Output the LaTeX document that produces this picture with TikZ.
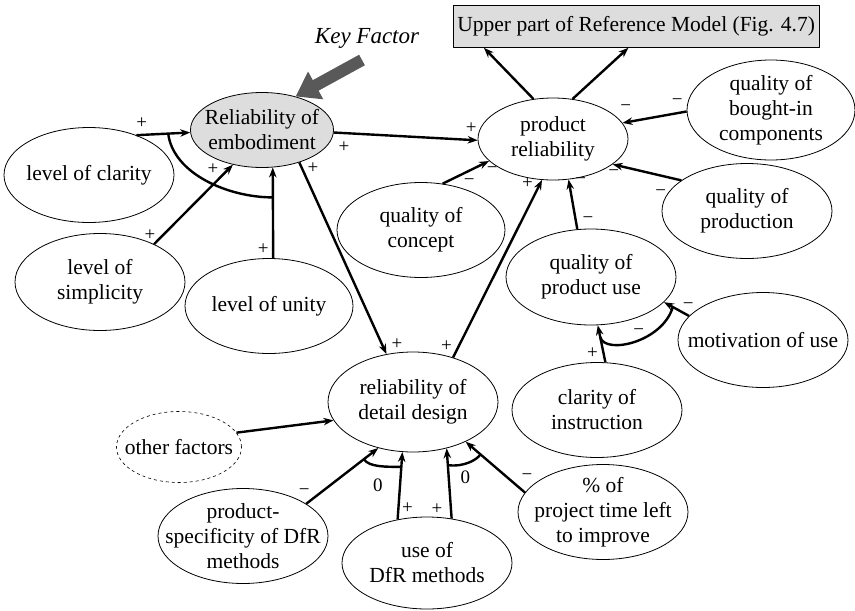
\documentclass[tikz,border=0pt]{standalone}
\usepackage{fontspec}
\setmainfont{Liberation Serif}
\usetikzlibrary{shapes.geometric,arrows.meta,calc}
\definecolor{keygray}{RGB}{221,221,221}
\definecolor{kfgray}{RGB}{89,89,89}
\begin{document}
\begin{tikzpicture}[x=1pt,y=-1pt,>={Stealth[length=10pt,width=7.5pt]},line join=round,
	font=\fontsize{21.5}{25}\selectfont,
	ell/.style={ellipse,draw,line width=.8pt,inner sep=-20pt,minimum width=170pt,minimum height=95pt,align=center},
	lnk/.style={->,line width=2.4pt},
	andarc/.style={line width=2.4pt},
	sgn/.style={font=\fontsize{19}{19}\selectfont,inner sep=0pt}]
				\useasboundingbox (0,0) rectangle (855,611);
				\path
				(453,5)node[draw,fill=keygray,line width=.8pt,anchor=north west,inner xsep=4pt,minimum height=42pt](box){Upper part of Reference Model (Fig. 4.7)}
				(367,38)node[font=\fontsize{23}{23}\selectfont\itshape](kf){Key Factor}
				(362,60)coordinate(kt)
				(262,130)node[ell,fill=keygray,minimum width=143pt,minimum height=75pt](re){Reliability of\\embodiment}
				(89,175)node[ell](lc){level of clarity}
				(100,282)node[ell,minimum height=97pt](ls){level of\\simplicity}
				(269,306)node[ell,minimum width=168pt](lu){level of unity}
				(553,139)node[ell,minimum width=150pt,minimum height=82pt](pr){product\\reliability}
				(421,230)node[ell,minimum width=168pt](qc){quality of\\concept}
				(771,110)node[ell,minimum width=168pt,minimum height=100pt](qb){quality of\\bought-in\\components}
				(747,211)node[ell](qp){quality of\\production}
				(591,277)node[ell,minimum height=96pt](qu){quality of\\product use}
				(763,340)node[ell](mu){motivation of use}
				(597,410)node[ell](ci){clarity of\\instruction}
				(413,402)node[ell,minimum height=100pt](rd){reliability of\\detail design}
				(179,447)node[ell,dashed,line width=.6pt,minimum width=125pt,minimum height=71pt](of){other factors}
				(243,536)node[ell](ps){product-\\specificity of DfR\\methods}
				(427,563)node[ell,minimum height=92pt](ud){use of\\DfR methods}
				(603,512)node[ell](pt){\% of\\project time left\\to improve}
				;
				% key factor pointer
				\draw[line width=12pt,kfgray,-{Triangle[length=23pt,width=30pt]}](kt)--(re.45);
				% into embodiment
				\draw[lnk](lc.40)--(re.182)node[sgn,pos=.1,yshift=12pt]{+};
				\draw[lnk](ls.35)--(re.230)node[sgn,pos=0,xshift=-4pt,yshift=9pt]{+}node[sgn,pos=1,xshift=-20pt,yshift=-4pt]{+};
				\draw[lnk](lu.85)--(re.286)node[sgn,pos=.1,xshift=-10pt]{+};
				\draw[andarc]($(lc.40)!.59!(re.182)$)..controls +(5,40) and +(-45,0)..($(lu.85)!.67!(re.286)$);
				% into product reliability
				\draw[lnk](re.358)--(pr.181)node[sgn,pos=.05,xshift=3pt,yshift=-14pt]{+}node[sgn,pos=.97,xshift=-2pt,yshift=12pt]{+};
				\draw[lnk](re.319)--(rd.119)node[sgn,pos=.03,xshift=11pt]{+}node[sgn,pos=.95,xshift=15pt]{+};
				\draw[lnk](rd.48)--(pr.255)node[sgn,pos=.05,xshift=-11pt,yshift=2pt]{+}node[sgn,pos=.95,xshift=-10pt,yshift=6pt]{+};
				\draw[lnk](qc.65)--(pr.199)node[sgn,pos=.55,xshift=1pt,yshift=-11pt]{−}node[sgn,pos=1,xshift=3pt,yshift=-9pt]{−};
				\draw[lnk](qu.106)--(pr.291)node[sgn,pos=.05,xshift=11pt,yshift=7pt]{−}node[sgn,pos=.97,xshift=12pt]{−};
				\draw[lnk](qp.155)--(pr.337)node[sgn,pos=.3,yshift=-18pt]{−}node[sgn,pos=1,xshift=1pt,yshift=-9pt]{−};
				\draw[lnk](qb.181)--(pr.13)node[sgn,pos=.1,xshift=-3pt,yshift=11pt]{−}node[sgn,pos=.95,yshift=14pt]{−};
				\draw[lnk](pr.116)--(box.188);
				\draw[lnk](pr.64)--(box.250);
				% product use
				\draw[lnk](ci.80)--(qu.278)node[sgn,pos=.25,xshift=-11pt]{+};
				\draw[lnk](mu.162)--(qu.341)node[sgn,pos=0,xshift=-1pt,yshift=10pt]{−};
				\draw[andarc]($(ci.80)!.68!(qu.278)$)..controls +(5,18) and +(-10,35)..($(mu.162)!.65!(qu.341)$)node[sgn,pos=.5,xshift=4pt,yshift=10pt]{−};
				% into detail design
				\draw[lnk](of.14)--(rd.193);
				\draw[lnk](ps.27)--(rd.233)node[sgn,pos=0,xshift=-2pt,yshift=12pt]{−};
				\draw[lnk](ud.124)--(rd.258)node[sgn,pos=.17,xshift=9pt]{+};
				\draw[lnk](ud.61)--(rd.306)node[sgn,pos=.14,xshift=-14pt]{+};
				\draw[lnk](pt.166)--(rd.323)node[sgn,pos=0,xshift=2pt,yshift=15pt]{−};
				\draw[andarc]($(ps.27)!.8!(rd.233)$)..controls +(5,8) and +(-15,0)..($(ud.124)!.78!(rd.258)$)node[sgn,pos=.5,xshift=-1pt,yshift=-19pt]{0};
				\draw[andarc]($(ud.61)!.76!(rd.306)$)..controls +(15,2) and +(-4,6)..($(pt.166)!.75!(rd.323)$)node[sgn,pos=.5,xshift=-3pt,yshift=-14pt]{0};
			\end{tikzpicture}
\end{document}
